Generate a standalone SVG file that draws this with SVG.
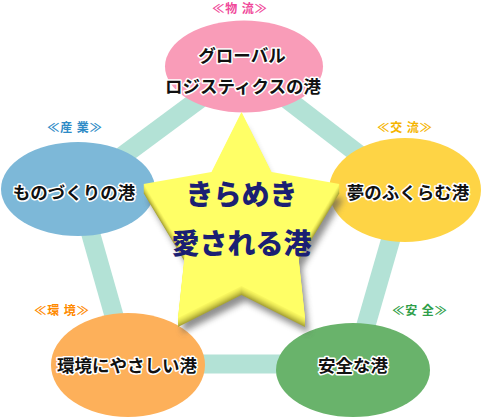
<svg xmlns="http://www.w3.org/2000/svg" width="483" height="417" viewBox="0 0 483 417">
<defs>
<style>
.band{stroke:#b3e2d6;stroke-width:19;stroke-linecap:butt;fill:none}
.nt{font-family:"Noto Sans CJK JP","Noto Sans",sans-serif;font-weight:bold;font-size:17.5px;fill:#111;stroke:#fff;stroke-width:3;stroke-linejoin:round;paint-order:stroke;text-anchor:middle}
.cat{font-family:"Noto Sans CJK JP","Noto Sans",sans-serif;font-weight:bold;font-size:12px;letter-spacing:1px;text-anchor:middle}
.st{font-family:"Noto Sans CJK JP","Noto Sans",sans-serif;font-weight:900;font-size:28px;fill:#1b1f73;text-anchor:middle}
</style>
<polygon id="starp" points="241.5,112 271.5,172 339.5,184 298,253 305,318 241.5,286 178,318 185,253 143.5,184 211.5,172"/>
<filter id="blur" x="-20%" y="-20%" width="140%" height="140%"><feGaussianBlur stdDeviation="3"/></filter>
</defs>
<rect width="483" height="417" fill="#fff"/>
<g id="connectors">
<line class="band" x1="244" y1="66" x2="78" y2="189"/>
<line class="band" x1="244" y1="66" x2="405" y2="190"/>
<line class="band" x1="78" y1="189" x2="128" y2="365"/>
<line class="band" x1="405" y1="190" x2="353" y2="370"/>
<line class="band" x1="128" y1="364" x2="353" y2="364"/>
</g>
<g id="node-butsuryu">
<ellipse cx="244" cy="66.5" rx="79" ry="46" fill="#f99cb8"/>
<text class="cat" x="240" y="13" fill="#f0489a">≪物 流≫</text>
<text class="nt" x="242" y="62">グローバル</text>
<text class="nt" x="243" y="93">ロジスティクスの港</text>
</g>
<g id="node-sangyo">
<ellipse cx="78" cy="189" rx="77" ry="47" fill="#7db8d8"/>
<text class="cat" x="75" y="132" fill="#2e8bc6">≪産 業≫</text>
<text class="nt" x="74" y="199">ものづくりの港</text>
</g>
<g id="node-koryu">
<ellipse cx="405" cy="190" rx="76" ry="52" fill="#fed445"/>
<text class="cat" x="405" y="132" fill="#f5b400">≪交 流≫</text>
<text class="nt" x="408" y="199">夢のふくらむ港</text>
</g>
<g id="node-kankyo">
<ellipse cx="128" cy="365" rx="77" ry="52" fill="#fdb05a"/>
<text class="cat" x="62" y="315" fill="#ff8a00">≪環 境≫</text>
<text class="nt" x="127" y="372">環境にやさしい港</text>
</g>
<g id="node-anzen">
<ellipse cx="353" cy="370" rx="77" ry="47" fill="#69b36b"/>
<text class="cat" x="420" y="315" fill="#2e9e48">≪安 全≫</text>
<text class="nt" x="353" y="372">安全な港</text>
</g>
<g id="star">
<use href="#starp" transform="translate(4,15)" fill="#555" opacity="0.65" filter="url(#blur)"/>
<use href="#starp" transform="translate(0,9)" fill="#a9a536"/>
<use href="#starp" transform="translate(0,8)" fill="#b6b23c"/>
<use href="#starp" transform="translate(0,7)" fill="#c3bf42"/>
<use href="#starp" transform="translate(0,6)" fill="#cfcb48"/>
<use href="#starp" transform="translate(0,5)" fill="#d9d64d"/>
<use href="#starp" transform="translate(0,4)" fill="#e3e052"/>
<use href="#starp" transform="translate(0,3)" fill="#ebe957"/>
<use href="#starp" transform="translate(0,2)" fill="#f2f05b"/>
<use href="#starp" transform="translate(0,1)" fill="#f8f65f"/>
<use href="#starp" fill="#ffff66"/>
<text class="st" x="241.5" y="205">きらめき</text>
<text class="st" x="241.5" y="254">愛される港</text>
</g>
</svg>
